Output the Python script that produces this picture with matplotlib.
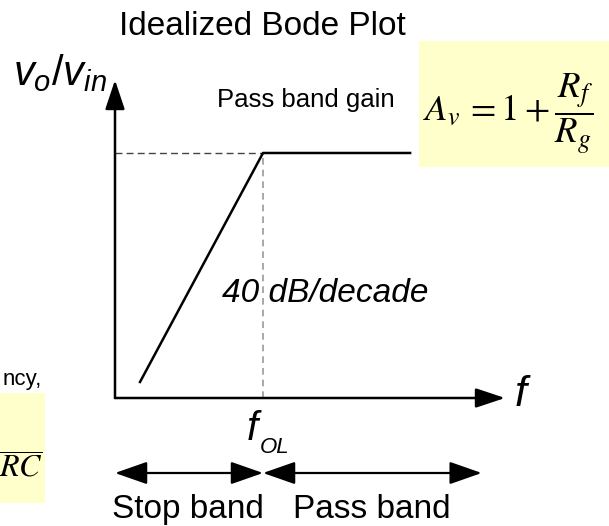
import matplotlib
matplotlib.use('Agg')
import matplotlib.pyplot as plt
from matplotlib.patches import Rectangle

W, H = 609, 526

plt.rcParams['font.family'] = 'Liberation Sans'
plt.rcParams['mathtext.fontset'] = 'custom'
plt.rcParams['mathtext.it'] = 'Liberation Sans:italic'
plt.rcParams['mathtext.rm'] = 'Liberation Sans'

# idealized asymptotes, frequency normalised to f_OL, gain in dB
f_ol = 1.0
freq = [0.1, 1.0, 15.7]
gain_db = [-40, 0, 0]
stop_band = [0.0626, 1.0]
pass_band = [1.0, 60.0]
f_lim = [0.0626, 92.8]
db_lim = [-42.8, 12.75]

title = 'Idealized Bode Plot'
slope_label = '40 dB/decade'
gain_label = 'Pass band gain'
band_labels = ['Stop band', 'Pass band']


def px(x, y):
    # slide pixel (from top left) -> figure fraction
    return x / W, 1 - y / H


fig = plt.figure(figsize=(W / 100, H / 100), dpi=100)
ax = fig.add_axes([115 / W, 1 - 398 / H, 390 / W, 318 / H])
ax.set_xscale('log')
ax.set_xlim(f_lim)
ax.set_ylim(db_lim)
ax.axis('off')

# yellow formula boxes
for x0, y0, x1, y1 in [(419, 41, 609, 167), (0, 393, 45, 503)]:
    fig.patches.append(Rectangle(px(x0, y1), (x1 - x0) / W, (y1 - y0) / H,
                                 transform=fig.transFigure, facecolor='#FFFFCC',
                                 edgecolor='none', zorder=0))

# axes with arrow heads
axis_arrow = dict(arrowstyle='-|>,head_length=1.8,head_width=0.6', mutation_scale=10,
                  lw=1.8, color='black', shrinkA=0, shrinkB=0)
ax.annotate('', xy=(f_lim[1], db_lim[0]), xytext=(f_lim[0], db_lim[0]),
            arrowprops=axis_arrow, annotation_clip=False)
ax.annotate('', xy=(f_lim[0], db_lim[1]), xytext=(f_lim[0], db_lim[0]),
            arrowprops=axis_arrow, annotation_clip=False)

# guide lines
ax.plot([f_lim[0], f_ol], [gain_db[-1]] * 2, ls=(0, (5, 3)), color='#444444', lw=1, clip_on=False)
ax.plot([f_ol, f_ol], [db_lim[0], gain_db[-1]], ls=(0, (4, 3)), color='#999999', lw=1.2, clip_on=False)

# bode asymptotes
ax.plot(freq, gain_db, color='black', lw=1.8, clip_on=False)

# stop band / pass band arrows
band_arrow = dict(arrowstyle='<|-|>,head_length=2.0,head_width=0.7', mutation_scale=10,
                  lw=1.6, color='black', shrinkA=0, shrinkB=0)
for band in [stop_band, pass_band]:
    ax.annotate('', xy=(band[1], 526 - 473), xycoords=('data', 'figure pixels'),
                xytext=(band[0], 526 - 473), textcoords=('data', 'figure pixels'),
                arrowprops=band_arrow, annotation_clip=False)

# texts
fig.text(*px(262, 35), title, fontsize=24, ha='center', va='baseline')
fig.text(*px(107, 85), r'$v_o/v_{in}$', fontsize=30, ha='right', va='baseline')
fig.text(*px(217, 107), gain_label, fontsize=18.5, ha='left', va='baseline')
fig.text(*px(423, 122), r'$A_v\,=1+\dfrac{R_f}{R_g}$', fontsize=26.5,
         math_fontfamily='stix', ha='left', va='baseline')
fig.text(*px(222, 302), slope_label, fontsize=24, style='italic', ha='left', va='baseline')
fig.text(*px(515, 406), 'f', fontsize=31, style='italic', ha='left', va='baseline')
fig.text(*px(247, 440), 'f', fontsize=29, style='italic', ha='left', va='baseline')
fig.text(*px(260, 453), 'OL', fontsize=16, style='italic', ha='left', va='baseline')
fig.text(*px(188, 518), band_labels[0], fontsize=24, ha='center', va='baseline')
fig.text(*px(372, 518), band_labels[1], fontsize=24, ha='center', va='baseline')

# visible end of the cut-off frequency note at the left slide edge
fig.text(*px(42, 385), 'ncy,', fontsize=16, ha='right', va='baseline')
fig.text(*px(43, 458), r'$\dfrac{\ }{RC}$', fontsize=23, math_fontfamily='stix',
         ha='right', va='baseline')

fig.savefig('out.png', dpi=100)
